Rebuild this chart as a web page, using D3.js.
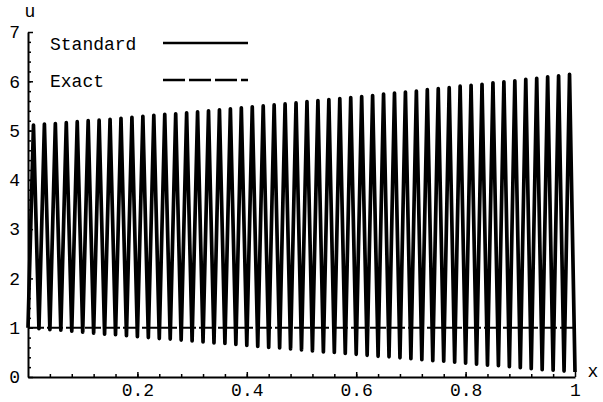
<!DOCTYPE html>
<html><head><meta charset="utf-8">
<script src="https://cdn.jsdelivr.net/npm/d3@7"></script>
<style>
body{margin:0;background:#fff;}
svg{display:block;}
text{font-family:"Liberation Mono","DejaVu Sans Mono",monospace;fill:#000;}
</style></head>
<body><svg id="c" width="603" height="402"></svg>
<script>
// Oscillation period in x
const period = 0.02;
// Peak values of the Standard solution (at x = (i+0.5)*period)
const peakValues = [5.11,5.13,5.14,5.16,5.18,5.20,5.21,5.23,5.25,5.27,
  5.29,5.31,5.33,5.34,5.36,5.38,5.40,5.42,5.44,5.46,
  5.48,5.50,5.52,5.54,5.56,5.59,5.61,5.63,5.65,5.67,
  5.69,5.71,5.74,5.76,5.78,5.80,5.83,5.85,5.87,5.90,
  5.92,5.94,5.97,5.99,6.01,6.04,6.06,6.09,6.11,6.14];
// Trough values of the Standard solution (at x = i*period)
const troughValues = [1.00,0.98,0.96,0.95,0.93,0.91,0.89,0.87,0.86,0.84,
  0.82,0.80,0.78,0.77,0.75,0.73,0.71,0.69,0.68,0.66,
  0.64,0.62,0.60,0.59,0.57,0.55,0.53,0.51,0.50,0.48,
  0.46,0.44,0.42,0.41,0.39,0.37,0.35,0.33,0.32,0.30,
  0.28,0.26,0.24,0.23,0.21,0.19,0.17,0.15,0.14,0.12,0.10];
// Exact solution
const exactX = [0, 1];
const exactValues = [1, 1];
const xTicks = [0.2, 0.4, 0.6, 0.8, 1];
const xTickLabels = ["0.2", "0.4", "0.6", "0.8", "1"];
const yTicks = [0,1,2,3,4,5,6,7];
const legendLabels = ["Standard", "Exact"];

const svg = d3.select("#c");
const x = d3.scaleLinear().domain([0,1]).range([28,575]);
const y = d3.scaleLinear().domain([0,7]).range([377,32]);

// Standard series: interleave troughs and peaks
const std = [];
troughValues.forEach((t,i)=>{
  std.push([i*period, t]);
  if (i < peakValues.length) std.push([(i+0.5)*period, peakValues[i]]);
});
const line = d3.line().x(d=>x(d[0])).y(d=>y(d[1]));
svg.append("path").datum(std).attr("d", line)
  .attr("fill","none").attr("stroke","#000").attr("stroke-width",3.7)
  .attr("stroke-linejoin","round");

svg.append("path").datum(exactX.map((v,i)=>[v,exactValues[i]])).attr("d", line)
  .attr("fill","none").attr("stroke","#000").attr("stroke-width",2)
  .attr("stroke-dasharray","16,3");

// Axes
const gx = svg.append("g").attr("transform",`translate(0,${y(0)})`)
  .call(d3.axisBottom(x).tickValues(xTicks).tickFormat((d,i)=>xTickLabels[i])
    .tickSizeInner(-5).tickSizeOuter(0).tickPadding(6));
const gxm = svg.append("g").attr("transform",`translate(0,${y(0)})`)
  .call(d3.axisBottom(x).tickValues(d3.range(1,25).map(i=>i*0.04)).tickFormat("")
    .tickSizeInner(-3).tickSizeOuter(0));
gxm.select(".domain").remove();
const gy = svg.append("g").attr("transform",`translate(${x(0)},0)`)
  .call(d3.axisLeft(y).tickValues(yTicks).tickFormat(d3.format("d"))
    .tickSizeInner(-5).tickSizeOuter(0).tickPadding(8));
const gym = svg.append("g").attr("transform",`translate(${x(0)},0)`)
  .call(d3.axisLeft(y).tickValues(d3.range(1,35).map(i=>i*0.2)).tickFormat("")
    .tickSizeInner(-3).tickSizeOuter(0));
gym.select(".domain").remove();
svg.selectAll(".domain").attr("stroke","#000").attr("stroke-width",2);
svg.selectAll(".tick line").attr("stroke","#000").attr("stroke-width",1.5);
svg.selectAll(".tick text").attr("font-size",18)
  .attr("font-family","Liberation Mono, monospace");

// Axis labels
svg.append("text").attr("x",30).attr("y",17).attr("text-anchor","middle")
  .attr("font-size",18).text("u");
svg.append("text").attr("x",593).attr("y",377).attr("text-anchor","middle")
  .attr("font-size",18).text("x");

// Legend
const lg = svg.append("g");
legendLabels.forEach((lab,i)=>{
  const yy = [43,80][i];
  lg.append("text").attr("x",50).attr("y",yy+7).attr("font-size",18).text(lab);
  lg.append("line").attr("x1",163).attr("x2",248).attr("y1",yy).attr("y2",yy)
    .attr("stroke","#000").attr("stroke-width",2.5)
    .attr("stroke-dasharray", i===1 ? "22,4" : null);
});
</script></body></html>
